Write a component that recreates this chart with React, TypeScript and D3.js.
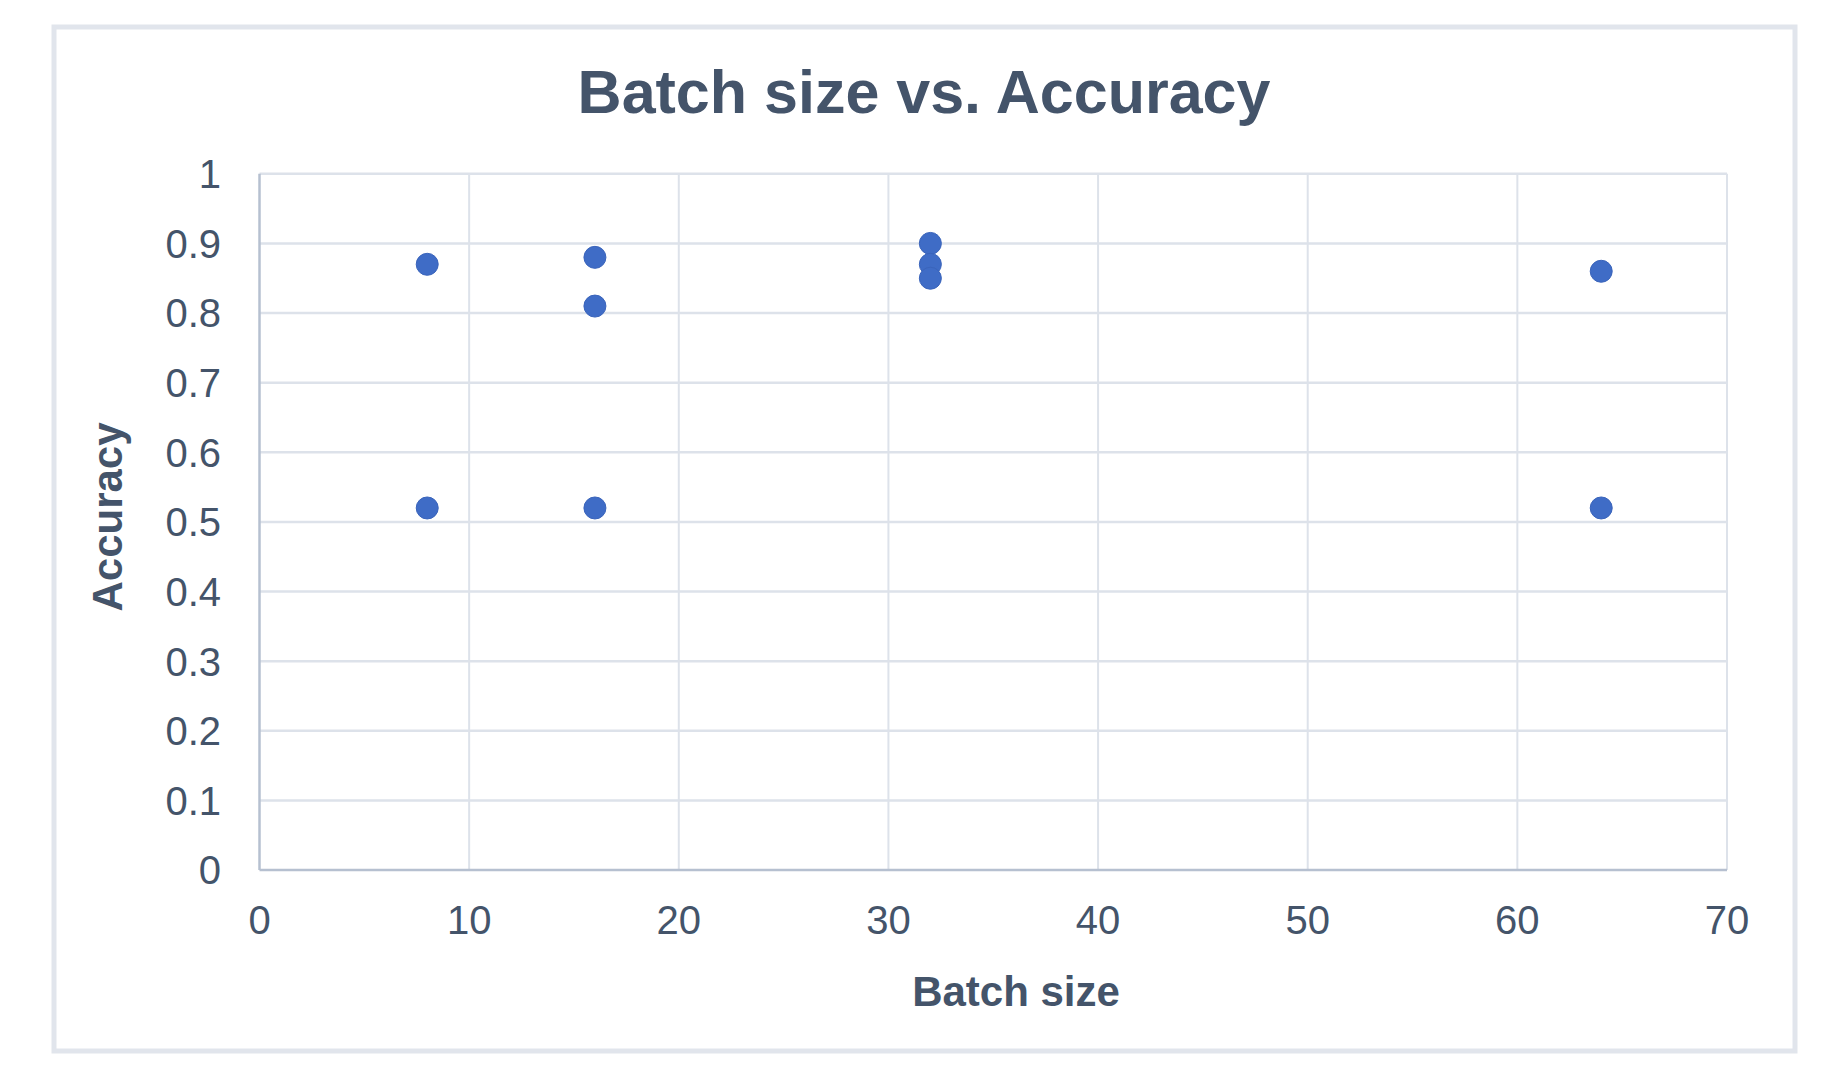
import React from "react";
import * as d3 from "d3";

const batchSizes = [8, 8, 16, 16, 16, 32, 32, 32, 64, 64];
const accuracies = [0.87, 0.52, 0.88, 0.81, 0.52, 0.9, 0.87, 0.85, 0.86, 0.52];
const xTicks = [0, 10, 20, 30, 40, 50, 60, 70];
const yTicks = [0, 0.1, 0.2, 0.3, 0.4, 0.5, 0.6, 0.7, 0.8, 0.9, 1];
const title = "Batch size vs. Accuracy";
const xTitle = "Batch size";
const yTitle = "Accuracy";

const W = 1841;
const H = 1091;
const plot = { left: 259.5, right: 1727, top: 173.8, bottom: 870 };
const textColor = "#44546A";
const gridColor = "#DDE2EA";
const axisColor = "#B6C0D0";
const pointColor = "#3F6CC6";
const font = "'Liberation Sans', Arial, Helvetica, sans-serif";

export default function App() {
  const x = d3.scaleLinear().domain([0, 70]).range([plot.left, plot.right]);
  const y = d3.scaleLinear().domain([0, 1]).range([plot.bottom, plot.top]);
  const data = batchSizes.map((b, i) => ({ b, a: accuracies[i] }));

  return (
    <svg
      width={W}
      height={H}
      style={{ position: "absolute", left: 0, top: 0, background: "#fff" }}
      fontFamily={font}
    >
      <rect x={0} y={0} width={W} height={H} fill="#fff" />
      <rect x={54} y={27} width={1741} height={1024} fill="#fff" stroke="#E1E5EC" strokeWidth={5} />
      <text x={924} y={113} textAnchor="middle" fontSize={61} fontWeight="bold" fill={textColor}>
        {title}
      </text>
      {/* vertical grid */}
      {xTicks.map((t) =>
        t === 0 ? null : (
          <line key={"vx" + t} x1={x(t)} x2={x(t)} y1={plot.top} y2={plot.bottom} stroke={gridColor} strokeWidth={2} />
        )
      )}
      {/* horizontal grid */}
      {yTicks.map((t) =>
        t === 0 ? null : (
          <line key={"hy" + t} x1={plot.left} x2={plot.right} y1={y(t)} y2={y(t)} stroke={gridColor} strokeWidth={2.5} />
        )
      )}
      {/* axes */}
      <line x1={plot.left} x2={plot.left} y1={plot.top} y2={plot.bottom} stroke={axisColor} strokeWidth={2.5} />
      <line x1={plot.left} x2={plot.right} y1={plot.bottom} y2={plot.bottom} stroke={axisColor} strokeWidth={2.5} />
      {/* y tick labels */}
      {yTicks.map((t) => (
        <text key={"yl" + t} x={221} y={y(t)} dy="0.36em" textAnchor="end" fontSize={40} fill={textColor}>
          {d3.format("~g")(t)}
        </text>
      ))}
      {/* x tick labels */}
      {xTicks.map((t) => (
        <text key={"xl" + t} x={x(t)} y={934} textAnchor="middle" fontSize={40} fill={textColor}>
          {t}
        </text>
      ))}
      <text x={1016} y={1006} textAnchor="middle" fontSize={42} fontWeight="bold" fill={textColor}>
        {xTitle}
      </text>
      <text
        transform={`translate(122,517) rotate(-90)`}
        textAnchor="middle"
        fontSize={42}
        fontWeight="bold"
        fill={textColor}
      >
        {yTitle}
      </text>
      {data.map((d, i) => (
        <circle key={"p" + i} cx={x(d.b)} cy={y(d.a)} r={11} fill={pointColor} stroke="#3A64BB" strokeWidth={1} />
      ))}
    </svg>
  );
}
